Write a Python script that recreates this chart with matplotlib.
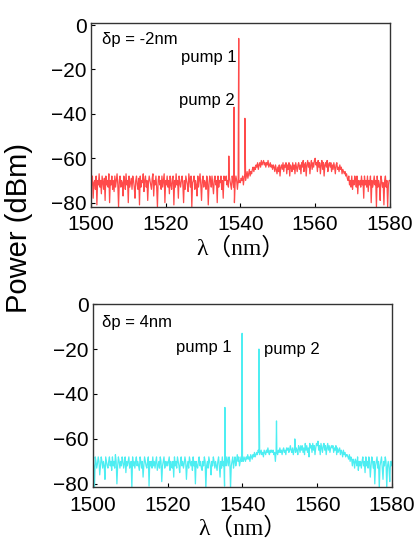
import numpy as np
import matplotlib
matplotlib.use("Agg")
import matplotlib.pyplot as plt

plt.rcParams['font.family'] = ['Liberation Sans', 'DejaVu Sans']

# delta_p = -2 nm spectrum (dBm), sampled every 0.2 nm from 1500 nm
top_dbm = [
    -70, -72, -68, -78, -71, -70, -74, -68, -81, -70, -72, -67, -73, -70, -76, -68, -71, -74, -69, -79,
    -68, -72, -70, -73, -67, -80, -70, -72, -68, -74, -70, -75, -68, -73, -70, -67, -72, -82, -70, -68,
    -73, -70, -71, -77, -68, -70, -74, -67, -72, -70, -80, -68, -73, -71, -69, -74, -68, -70, -73, -78,
    -70, -68, -72, -74, -69, -81, -68, -73, -70, -71, -67, -75, -70, -68, -73, -70, -79, -71, -68, -70,
    -72, -74, -69, -67, -77, -70, -72, -68, -73, -82, -70, -68, -72, -70, -74, -68, -73, -70, -67, -80,
    -70, -72, -68, -73, -70, -76, -68, -72, -74, -69, -68, -81, -70, -73, -67, -72, -70, -78, -68, -71,
    -73, -70, -68, -72, -80, -70, -74, -68, -70, -72, -75, -67, -70, -73, -68, -82, -71, -70, -68, -74,
    -70, -72, -77, -68, -73, -70, -67, -72, -79, -70, -68, -73, -70, -71, -74, -68, -70, -81, -72, -68,
    -70, -73, -68, -72, -76, -70, -68, -72, -70, -80, -68, -73, -70, -71, -68, -74, -70, -78, -68, -70,
    -70, -68, -72, -70, -73, -68, -70, -72, -74, -68, -70, -73, -80, -71, -68, -70, -74, -70, -71, -70,
    -71, -69, -70, -68, -72, -69, -67, -70, -68, -66, -69, -67, -65, -68, -66, -67, -65, -64, -66, -64,
    -65, -63, -64, -62, -65, -63, -62, -64, -61, -63, -62, -61, -63, -62, -64, -62, -63, -61, -64, -63,
    -62, -64, -63, -65, -63, -64, -66, -63, -65, -67, -64, -66, -63, -68, -64, -63, -65, -62, -66, -63,
    -64, -62, -67, -63, -65, -62, -68, -63, -64, -66, -62, -65, -63, -67, -62, -64, -66, -63, -62, -65,
    -63, -67, -62, -64, -61, -66, -63, -62, -68, -63, -61, -64, -62, -67, -63, -61, -65, -62, -64, -61,
    -60, -63, -62, -66, -61, -64, -62, -67, -63, -61, -65, -62, -68, -63, -62, -64, -61, -66, -63, -62,
    -64, -62, -66, -63, -65, -62, -64, -67, -63, -62, -65, -64, -66, -63, -65, -64, -67, -65, -66, -67,
    -66, -68, -67, -69, -70, -68, -72, -70, -73, -68, -74, -70, -72, -68, -70, -73, -68, -76, -70, -72,
    -70, -73, -68, -72, -70, -78, -68, -72, -70, -73, -68, -75, -70, -72, -68, -80, -70, -73, -71, -68,
    -72, -70, -82, -68, -73, -70, -72, -79, -68, -70, -73, -71, -81, -70, -68, -73, -70, -82, -72, -70,
    -70,
]
top_peak_wl = [1536.9, 1538.3, 1539.55, 1541.2]
top_peak_dbm = [-59, -37, -6, -42]

# delta_p = 4 nm spectrum (dBm), sampled every 0.2 nm from 1500 nm
bot_dbm = [
    -70, -72, -82, -68, -70, -73, -71, -68, -70, -76, -72, -68, -70, -73, -70, -72, -78, -68, -70, -72,
    -73, -70, -68, -72, -70, -74, -68, -72, -70, -73, -67, -70, -80, -72, -68, -70, -73, -70, -72, -68,
    -70, -73, -71, -68, -75, -70, -72, -70, -68, -73, -71, -70, -82, -68, -72, -70, -73, -70, -68, -72,
    -70, -72, -74, -68, -70, -73, -70, -77, -72, -68, -70, -72, -73, -70, -68, -81, -70, -72, -70, -73,
    -68, -72, -70, -73, -70, -68, -74, -72, -70, -73, -68, -70, -79, -72, -70, -68, -73, -70, -72, -70,
    -72, -70, -68, -74, -70, -72, -73, -70, -77, -68, -72, -70, -73, -68, -70, -72, -75, -70, -68, -72,
    -70, -73, -71, -68, -70, -78, -72, -70, -73, -68, -70, -72, -70, -74, -68, -72, -70, -80, -70, -72,
    -73, -70, -68, -72, -70, -73, -74, -70, -72, -68, -70, -82, -72, -70, -73, -68, -70, -72, -76, -70,
    -72, -68, -70, -73, -70, -72, -74, -70, -68, -72, -77, -70, -73, -68, -72, -70, -81, -70, -72, -68,
    -70, -72, -68, -70, -82, -72, -70, -68, -73, -70, -68, -72, -70, -67, -70, -68, -72, -70, -68, -70,
    -69, -70, -68, -69, -70, -68, -69, -67, -69, -68, -70, -67, -68, -69, -67, -68, -66, -68, -67, -66,
    -67, -65, -66, -67, -66, -65, -67, -66, -68, -65, -66, -67, -65, -66, -64, -66, -67, -65, -66, -65,
    -66, -65, -67, -66, -70, -65, -66, -67, -65, -66, -64, -66, -65, -67, -65, -64, -66, -65, -67, -64,
    -65, -64, -66, -65, -63, -65, -66, -64, -67, -65, -63, -66, -64, -65, -67, -63, -64, -66, -63, -65,
    -63, -66, -64, -67, -62, -65, -63, -66, -64, -68, -62, -64, -63, -66, -62, -65, -63, -67, -64, -62,
    -63, -61, -65, -63, -67, -62, -64, -66, -63, -62, -65, -63, -67, -64, -62, -65, -63, -66, -64, -63,
    -64, -63, -66, -64, -65, -63, -67, -64, -66, -65, -64, -67, -65, -66, -68, -65, -67, -66, -68, -67,
    -67, -68, -69, -67, -70, -68, -69, -72, -69, -70, -73, -69, -70, -72, -68, -74, -70, -72, -70, -73,
    -70, -68, -72, -70, -75, -68, -72, -70, -73, -68, -70, -77, -72, -68, -70, -73, -70, -80, -72, -70,
    -68, -73, -70, -82, -72, -70, -68, -73, -78, -70, -72, -68, -70, -82, -72, -70, -73, -79, -70, -72,
    -70,
]
bot_peak_wl = [1535.3, 1539.9, 1544.4, 1549.1, 1554.0]
bot_peak_dbm = [-46, -13, -20, -52, -60]

xticks = [1500, 1520, 1540, 1560, 1580]
yticks = [0, -20, -40, -60, -80]
step_nm = 0.2
start_nm = 1500.0


def merged(y, px, py):
    x = start_nm + step_nm * np.arange(len(y))
    xs = np.concatenate([x, np.asarray(px, float)])
    ys = np.concatenate([np.asarray(y, float), np.asarray(py, float)])
    o = np.argsort(xs, kind="stable")
    return xs[o], ys[o]


fig = plt.figure(figsize=(4.17, 5.45), dpi=100)
ax1 = fig.add_axes([0.218, 0.620, 0.717, 0.338])
ax2 = fig.add_axes([0.223, 0.106, 0.717, 0.336])

x1, y1 = merged(top_dbm, top_peak_wl, top_peak_dbm)
x2, y2 = merged(bot_dbm, bot_peak_wl, bot_peak_dbm)
ax1.plot(x1, y1, color='#ff4a4a', lw=0.9)
ax2.plot(x2, y2, color='#4deef2', lw=0.9)

for ax, ylim in ((ax1, (-82, 1)), (ax2, (-81.5, 0))):
    ax.set_xlim(1500, 1580)
    ax.set_ylim(*ylim)
    ax.set_xticks(xticks)
    ax.set_yticks(yticks)
    ax.tick_params(direction='in', length=3, width=0.8, labelsize=15)
    ax.tick_params(axis='x', pad=6)
    ax.tick_params(axis='y', pad=3)
    for s in ax.spines.values():
        s.set_linewidth(1.0)
        s.set_color('#333333')
    ax.set_xlabel('λ（nm）', fontsize=17,
                  family=['Liberation Serif', 'Noto Sans CJK SC'], labelpad=2)

ax1.text(0.037, 0.91, 'δp = -2nm', transform=ax1.transAxes, fontsize=12,
         ha='left', va='center')
ax1.text(1539.0, -14.4, 'pump 1', fontsize=12, ha='right', va='center')
ax1.text(1538.5, -33.9, 'pump 2', fontsize=12, ha='right', va='center')

ax2.text(0.03, 0.90, 'δp = 4nm', transform=ax2.transAxes, fontsize=12,
         ha='left', va='center')
ax2.text(1537.2, -19.1, 'pump 1', fontsize=12, ha='right', va='center')
ax2.text(1545.7, -20.0, 'pump 2', fontsize=12, ha='left', va='center')

fig.text(0.045, 1 - 228 / 545, 'Power (dBm)', rotation=90, fontsize=21,
         ha='center', va='center')

fig.savefig('out.png', dpi=100)
